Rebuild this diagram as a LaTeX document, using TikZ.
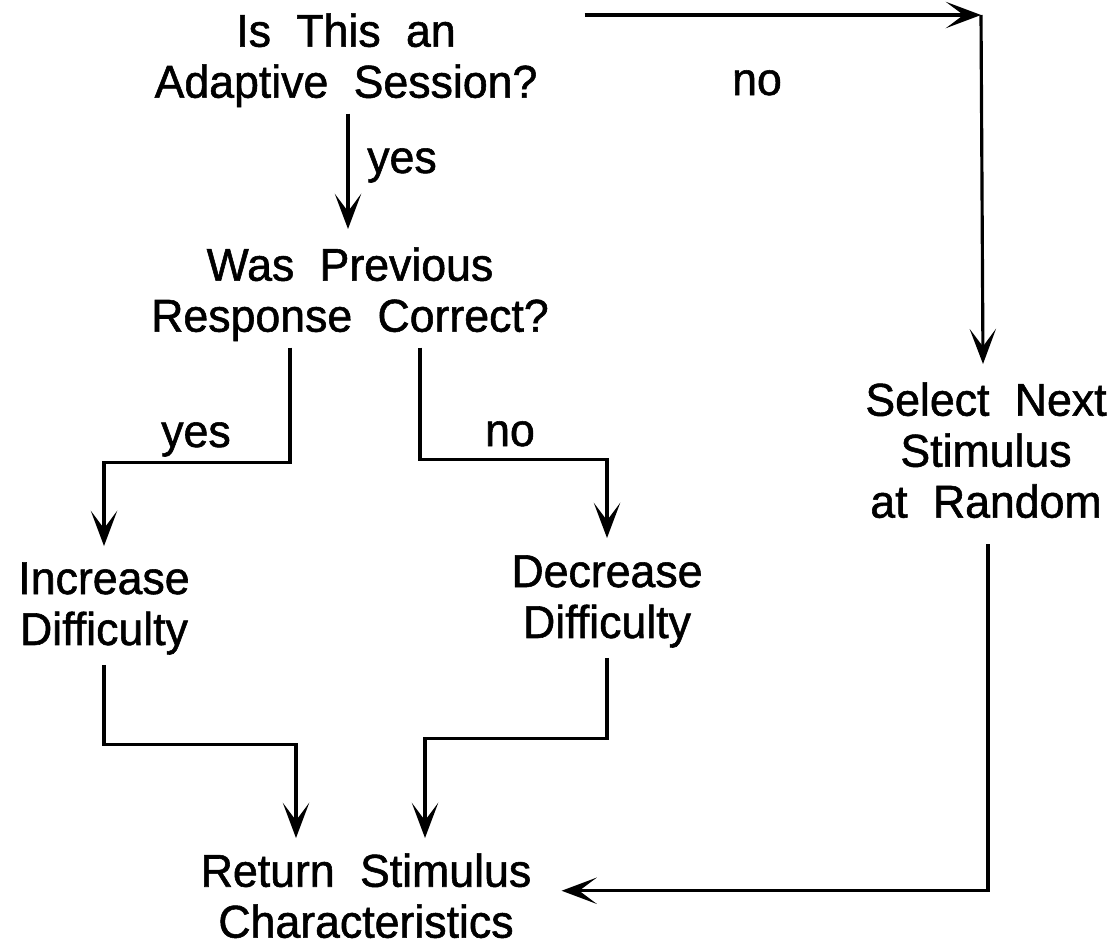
\documentclass[tikz,border=0pt]{standalone}
\usepackage{fontspec}
\setmainfont[FakeStretch=0.97,FakeBold=1.2]{Liberation Sans}
\usetikzlibrary{arrows.meta,calc}
\newcommand\diagfont{\fontsize{26.2}{29}\selectfont\spaceskip=0.55em\relax}
\begin{document}
\begin{tikzpicture}[x=0.02cm,y=-0.02cm,
  txt/.style={inner sep=0pt, align=center, font=\diagfont},
  lbl/.style={inner sep=0pt, font=\diagfont},
  arr/.style={line width=1.8pt, -{Stealth[length=20pt,width=15pt,inset=10pt]}}]
\useasboundingbox (0,0) rectangle (1114,947);
% nodes
\node[txt, anchor=north] (q1) at (346,13) {Is This an\\Adaptive Session?};
\node[txt, anchor=north] (q2) at (350,247) {Was Previous\\Response Correct?};
\node[txt, anchor=north] (inc) at (104,562) {Increase\\Difficulty};
\node[txt, anchor=north] (dec) at (607,555) {Decrease\\Difficulty};
\node[txt, anchor=north] (sel) at (986,382) {Select Next\\Stimulus\\at Random};
\node[txt, anchor=north] (ret) at (366,853) {Return Stimulus\\Characteristics};
% labels
\node[lbl, anchor=base] (l1) at (402,173) {yes};
\node[lbl, anchor=base] (l2) at (757,95) {no};
\node[lbl, anchor=base] (l3) at (196,447) {yes};
\node[lbl, anchor=base] (l4) at (510,446) {no};
% connectors
\coordinate (c1) at (981,15);
\draw[arr] ($(q1.south)+(2,6)$) -- ($(q2.north)+(-2,-18)$);
\draw[arr] ($(q1.north east)+(47,2)$) -- (c1);
\draw[arr] (c1) -- ($(sel.north)+(-3,-18)$);
\draw[arr] ($(q2.south)+(-60,6)$) -- ++(0,115) -| ($(inc.north)+(0,-16)$);
\draw[arr] ($(q2.south)+(70,6)$) -- ++(0,112) -| ($(dec.north)+(0,-17)$);
\draw[arr] ($(inc.south)+(0,10)$) -- ++(0,80) -| ($(ret.north)+(-70,-15)$);
\draw[arr] ($(dec.south)+(0,10)$) -- ++(0,81) -| ($(ret.north)+(59,-15)$);
\draw[arr] ($(sel.south)+(2,26)$) |- ($(ret.east)+(30,-5)$);
\end{tikzpicture}
\end{document}
